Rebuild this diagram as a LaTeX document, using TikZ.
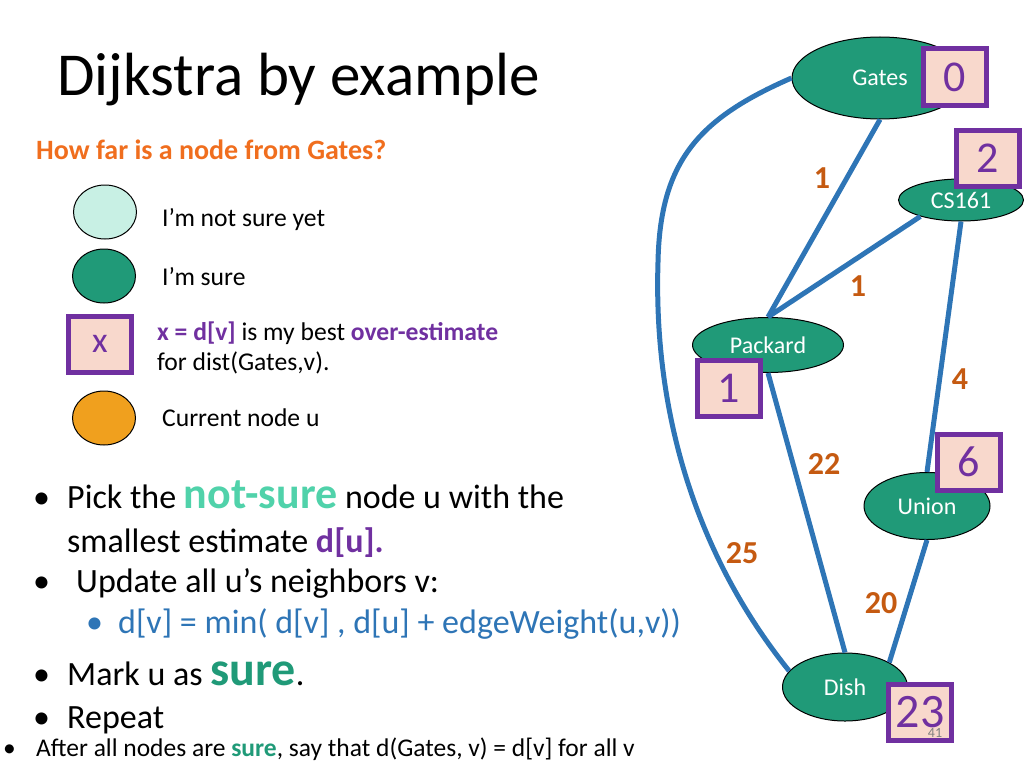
\documentclass[tikz,border=0pt]{standalone}
\usepackage{fontspec}
\setmainfont{Carlito}
\usetikzlibrary{shapes.geometric}
\definecolor{nodegreen}{RGB}{32,154,120}
\definecolor{unsure}{RGB}{200,240,228}
\definecolor{currentorange}{RGB}{240,160,30}
\definecolor{boxpurple}{RGB}{112,48,160}
\definecolor{boxpink}{RGB}{248,216,204}
\definecolor{roadblue}{RGB}{46,117,182}
\definecolor{weightbrown}{RGB}{197,90,17}
\definecolor{headorange}{RGB}{240,110,30}
\definecolor{notsuregreen}{RGB}{80,210,170}
\tikzstyle{place} = [ellipse, draw=black, line width=1pt, fill=nodegreen, text=white, inner sep=0pt, font=\fontsize{24}{24}\selectfont]
\tikzstyle{estimate} = [rectangle, draw=boxpurple, line width=5pt, fill=boxpink, text=boxpurple, minimum width=63pt, minimum height=56pt, inner sep=0pt, font=\fontsize{44}{44}\selectfont]
\tikzstyle{weight} = [text=weightbrown, inner sep=0pt, font=\bfseries\fontsize{32}{32}\selectfont]
\tikzstyle{road} = [draw=roadblue, line width=5pt]
\tikzstyle{legend} = [ellipse, draw=black, line width=1pt, minimum width=63pt, minimum height=54pt, inner sep=0pt]
\tikzstyle{say} = [anchor=base west, inner sep=0pt, font=\fontsize{25.6}{25.6}\selectfont]
\tikzstyle{point} = [anchor=base west, inner sep=0pt, font=\fontsize{34}{34}\selectfont]

\begin{document}
\begin{tikzpicture}[x=1pt, y=-1pt]
\useasboundingbox (0,0) rectangle (1024,768);
\node[anchor=base west, inner sep=0pt, font=\fontsize{61}{61}\selectfont] (title) at (57,95) {Dijkstra by example};
\node[anchor=base west, inner sep=0pt, text=headorange, font=\bfseries\fontsize{28}{28}\selectfont] (question) at (36,159) {How far is a node from Gates?};

\node[legend, fill=unsure] (notsure) at (105,212) {};
\node[say] (notsuretext) at (162,226) {I’m not sure yet};
\node[legend, fill=nodegreen] (sure) at (104,276) {};
\node[say] (suretext) at (162,285) {I’m sure};
\node[estimate, font=\fontsize{36}{36}\selectfont] (xbox) at (100,344) {x};
\node[say] (xtext) at (157,340) {\textcolor{boxpurple}{\bfseries x = d[v]} is my best \textcolor{boxpurple}{\bfseries over-estimate}};
\node[say] (xtext2) at (157,370) {for dist(Gates,v).};
\node[legend, fill=currentorange] (current) at (104,418) {};
\node[say] (currenttext) at (162,426) {Current node u};

\node[point] (b1) at (33,508) {\textbullet};
\node[point] (pick) at (67,508) {Pick the \textcolor{notsuregreen}{\bfseries\fontsize{44}{44}\selectfont not-sure} node u with the};
\node[point] (pick2) at (67,552) {smallest estimate \textcolor{boxpurple}{\bfseries d[u].}};
\node[point] (b2) at (33,592) {\textbullet};
\node[point] (update) at (76,592) {Update all u’s neighbors v:};
\node[point, text=roadblue] (b3) at (86,633) {\textbullet};
\node[point, text=roadblue] (rule) at (118,633) {d[v] = min( d[v] , d[u] + edgeWeight(u,v))};
\node[point] (b4) at (33,685) {\textbullet};
\node[point] (mark) at (67,685) {Mark u as \textcolor{nodegreen}{\bfseries\fontsize{48}{48}\selectfont sure}.};
\node[point] (b5) at (33,728) {\textbullet};
\node[point] (repeat) at (67,728) {Repeat};
\node[say, font=\fontsize{25.5}{25.5}\selectfont] (b6) at (3,756) {\textbullet};
\node[say, font=\fontsize{25.5}{25.5}\selectfont] (after) at (36,756) {After all nodes are \textcolor{nodegreen}{\bfseries sure}, say that d(Gates, v) = d[v] for all v};

\node[place, minimum width=176pt, minimum height=82pt] (gates) at (880,78) {Gates\hspace{60pt}};
\node[place, minimum width=125pt, minimum height=42pt] (cs161) at (961,200) {CS161};
\node[place, minimum width=151pt, minimum height=55pt] (packard) at (768,345) {Packard};
\node[place, minimum width=126pt, minimum height=67pt] (union) at (927,506) {Union};
\node[place, minimum width=125pt, minimum height=68pt] (dish) at (845,687) {Dish};
\coordinate (bend) at (658,262);

\draw[road] (gates.south) -- (packard.north);
\draw[road] (cs161.202) -- (packard.north);
\draw[road] (cs161.south) -- (union.north);
\draw[road] (packard.south) -- (dish.north);
\draw[road] (union.south) -- (dish.29);
\draw[road] (gates.west) .. controls (700,118) and (660,160) .. (bend) .. controls (653,420) and (700,560) .. (dish.164);

\node[weight] (w1) at (822,178) {1};
\node[weight] (w2) at (858,286) {1};
\node[weight] (w3) at (960,379) {4};
\node[weight] (w4) at (824,464) {22};
\node[weight] (w5) at (742,553) {25};
\node[weight] (w6) at (881,603) {20};

\node[estimate] (dgates) at (955,77) {0};
\node[estimate] (dcs161) at (988,158) {2};
\node[estimate] (dpackard) at (729,388) {1};
\node[estimate] (dunion) at (969,462) {6};
\node[estimate, font=\fontsize{48}{48}\selectfont] (ddish) at (920,712) {23};
\node[text=gray, inner sep=0pt, font=\fontsize{14}{14}\selectfont] (page) at (935,733) {41};
\end{tikzpicture}
\end{document}
